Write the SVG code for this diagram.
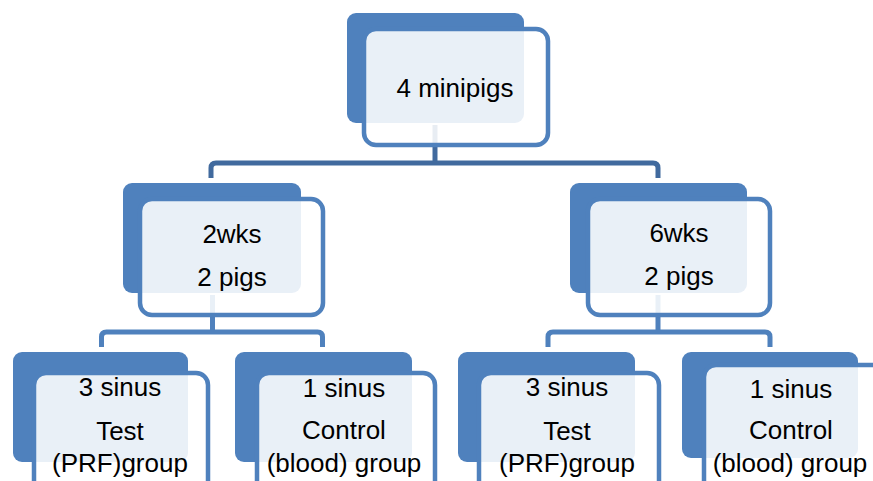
<svg xmlns="http://www.w3.org/2000/svg" width="873" height="481" viewBox="0 0 873 481">
  <style>
    .back { fill: #4F81BD; }
    .front { fill: #FFFFFF; fill-opacity: 0.88; stroke: #4F81BD; stroke-width: 4.5; }
    .lbl { font-family: "Liberation Sans", Arial, sans-serif; font-size: 26px; fill: #000000; text-anchor: middle; }
    .link-top { fill: none; stroke: #416A9E; stroke-width: 5; stroke-linejoin: round; }
    .link { fill: none; stroke: #4F81BD; stroke-width: 5; stroke-linejoin: round; }
  </style>
  <rect width="873" height="481" fill="#FFFFFF"/>

  <!-- connectors -->
  <g id="connectors">
    <path class="link-top" d="M435 125 V163"/>
    <path class="link-top" d="M211 178 V168 Q211 163 216 163 H653 Q658 163 658 168 V178"/>
    <path class="link" d="M212.5 295 V332"/>
    <path class="link" d="M101.5 347 V337 Q101.5 332 106.5 332 H317.5 Q322.5 332 322.5 337 V347"/>
    <path class="link" d="M658 295 V332"/>
    <path class="link" d="M548 347 V337 Q548 332 553 332 H765 Q770 332 770 337 V347"/>
  </g>

  <!-- top node -->
  <g id="node-root">
    <rect class="back" x="347" y="13" width="177" height="110" rx="9"/>
    <rect class="front" x="364" y="29" width="184" height="116" rx="12"/>
    <text class="lbl" x="455" y="97">4 minipigs</text>
  </g>

  <!-- second level -->
  <g id="node-2wks">
    <rect class="back" x="123" y="183" width="178" height="110" rx="9"/>
    <rect class="front" x="140" y="199" width="183" height="116" rx="12"/>
    <text class="lbl" x="232" y="243">2wks</text>
    <text class="lbl" x="232" y="286">2 pigs</text>
  </g>

  <g id="node-6wks">
    <rect class="back" x="570" y="183" width="177" height="110" rx="9"/>
    <rect class="front" x="588" y="199" width="182" height="116" rx="12"/>
    <text class="lbl" x="679" y="242">6wks</text>
    <text class="lbl" x="679" y="285">2 pigs</text>
  </g>

  <!-- third level -->
  <g id="node-2wks-test">
    <rect class="back" x="13" y="352" width="175" height="110" rx="9"/>
    <rect class="front" x="34" y="373" width="174" height="140" rx="12"/>
    <text class="lbl" x="120" y="396">3 sinus</text>
    <text class="lbl" x="120" y="440">Test</text>
    <text class="lbl" x="120" y="472">(PRF)group</text>
  </g>

  <g id="node-2wks-control">
    <rect class="back" x="235" y="352" width="177" height="110" rx="9"/>
    <rect class="front" x="257" y="373" width="178" height="140" rx="12"/>
    <text class="lbl" x="344" y="397">1 sinus</text>
    <text class="lbl" x="344" y="439">Control</text>
    <text class="lbl" x="344" y="472">(blood) group</text>
  </g>

  <g id="node-6wks-test">
    <rect class="back" x="458" y="352" width="177" height="110" rx="9"/>
    <rect class="front" x="479" y="373" width="180" height="140" rx="12"/>
    <text class="lbl" x="567" y="396">3 sinus</text>
    <text class="lbl" x="567" y="440">Test</text>
    <text class="lbl" x="567" y="472">(PRF)group</text>
  </g>

  <g id="node-6wks-control">
    <rect class="back" x="682" y="352" width="176" height="106" rx="9"/>
    <rect class="front" x="704" y="365" width="182" height="150" rx="12"/>
    <text class="lbl" x="791" y="398">1 sinus</text>
    <text class="lbl" x="791" y="439">Control</text>
    <text class="lbl" x="790" y="472">(blood) group</text>
  </g>
</svg>
